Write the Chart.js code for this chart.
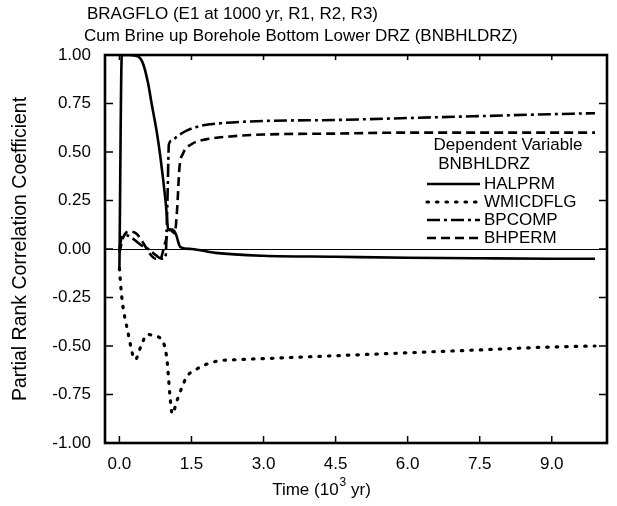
<!DOCTYPE html>
<html><head><meta charset="utf-8">
<script src="https://cdn.jsdelivr.net/npm/chart.js@4"></script>
<style>html,body{margin:0;padding:0;background:#fff}</style>
</head><body>
<canvas id="c" width="617" height="506"></canvas>
<script>
const titleLines = ["BRAGFLO (E1 at 1000 yr, R1, R2, R3)", "Cum Brine up Borehole Bottom Lower DRZ (BNBHLDRZ)"];
const yAxisTitle = "Partial Rank Correlation Coefficient";
const legendTitle = ["Dependent Variable", "BNBHLDRZ"];
const seriesNames = ["HALPRM", "WMICDFLG", "BPCOMP", "BHPERM"];
const xTicks = [0, 1.5, 3, 4.5, 6, 7.5, 9];
const yTicks = [-1, -0.75, -0.5, -0.25, 0, 0.25, 0.5, 0.75, 1];

const tHAL = [0, 0.05, 0.2, 0.4, 0.5, 0.6, 0.67, 0.78, 0.85, 0.96, 1.02, 1.1, 1.17, 1.27, 1.5, 2.0, 3.0, 4.5, 6.0, 7.5, 9.0, 9.9];
const vHAL = [-0.1, 1.0, 1.0, 0.99, 0.95, 0.85, 0.75, 0.6, 0.48, 0.25, 0.1, 0.1, 0.08, 0.01, 0.0, -0.02, -0.035, -0.04, -0.045, -0.048, -0.05, -0.05];

const tWMI = [0, 0.05, 0.17, 0.33, 0.45, 0.58, 0.75, 0.89, 0.99, 1.05, 1.1, 1.2, 1.4, 1.6, 2.0, 2.5, 3.0, 4.5, 6.0, 7.5, 9.0, 9.9];
const vWMI = [-0.1, -0.25, -0.42, -0.57, -0.5, -0.44, -0.45, -0.47, -0.57, -0.75, -0.85, -0.78, -0.66, -0.62, -0.58, -0.57, -0.565, -0.55, -0.535, -0.52, -0.505, -0.5];

const tBPC = [0, 0.05, 0.15, 0.3, 0.45, 0.6, 0.75, 0.88, 0.96, 1.0, 1.03, 1.1, 1.2, 1.4, 1.7, 2.2, 3.0, 4.5, 6.0, 7.5, 9.0, 9.9];
const vBPC = [0, 0.06, 0.07, 0.05, 0.02, 0.0, -0.03, -0.05, -0.04, 0.25, 0.54, 0.56, 0.58, 0.61, 0.635, 0.65, 0.66, 0.665, 0.675, 0.685, 0.695, 0.70];

const tBHP = [0, 0.08, 0.2, 0.35, 0.5, 0.62, 0.75, 0.85, 0.95, 1.05, 1.15, 1.2, 1.25, 1.32, 1.5, 1.8, 2.3, 3.0, 4.5, 6.0, 7.5, 9.9];
const vBHP = [-0.02, 0.06, 0.09, 0.08, 0.03, -0.02, -0.05, -0.05, 0.03, 0.1, 0.08, 0.2, 0.42, 0.49, 0.54, 0.565, 0.58, 0.59, 0.595, 0.6, 0.6, 0.6];

const FONT = "'Liberation Sans', Arial, Helvetica, sans-serif";
const FS = 17;
const dashes = [[], [1.5, 8], [13, 4, 3, 4], [9, 5]];
const widths = [2.6, 3.2, 2.6, 2.6];

function pts(t, v) { return t.map((x, i) => ({x: x, y: v[i]})); }
const seriesData = [pts(tHAL, vHAL), pts(tWMI, vWMI), pts(tBPC, vBPC), pts(tBHP, vBHP)];

const datasets = seriesData.map((d, i) => ({
  label: seriesNames[i], data: d, borderColor: '#000', backgroundColor: '#000',
  borderWidth: widths[i], borderDash: dashes[i], pointRadius: 0,
  cubicInterpolationMode: 'monotone', fill: false,
  borderCapStyle: i === 1 ? 'round' : 'butt'
}));

const decor = {
  id: 'decor',
  beforeDatasetsDraw(chart) {
    const {ctx, chartArea: a, scales: {y}} = chart;
    ctx.save();
    ctx.strokeStyle = '#000'; ctx.lineWidth = 1;
    const y0 = Math.round(y.getPixelForValue(0)) + 0.5;
    ctx.beginPath(); ctx.moveTo(a.left, y0); ctx.lineTo(a.right, y0); ctx.stroke();
    ctx.restore();
  },
  afterDraw(chart) {
    const {ctx, chartArea: a, scales: {x, y}} = chart;
    ctx.save();
    ctx.strokeStyle = '#000'; ctx.fillStyle = '#000';
    ctx.lineWidth = 2.6;
    ctx.strokeRect(a.left, a.top, a.right - a.left, a.bottom - a.top);
    ctx.lineWidth = 1.5;
    ctx.beginPath();
    xTicks.forEach(v => {
      const px = x.getPixelForValue(v);
      ctx.moveTo(px, a.bottom); ctx.lineTo(px, a.bottom - 7);
      ctx.moveTo(px, a.top); ctx.lineTo(px, a.top + 5);
    });
    yTicks.forEach(v => {
      const py = y.getPixelForValue(v);
      ctx.moveTo(a.left, py); ctx.lineTo(a.left + 8, py);
      ctx.moveTo(a.right, py); ctx.lineTo(a.right - 8, py);
    });
    ctx.stroke();
    ctx.font = FS + 'px ' + FONT;
    ctx.textBaseline = 'middle'; ctx.textAlign = 'left';
    ctx.fillText(titleLines[0], 87, 14);
    ctx.fillText(titleLines[1], 84, 36);
    ctx.save();
    ctx.translate(21, (a.top + a.bottom) / 2);
    ctx.rotate(-Math.PI / 2);
    ctx.textAlign = 'center';
    ctx.font = '19.5px ' + FONT;
    ctx.fillText(yAxisTitle, 0, 0);
    ctx.restore();
    const p1 = 'Time (10', sup = '3', p2 = ' yr)';
    ctx.font = FS + 'px ' + FONT;
    const w1 = ctx.measureText(p1).width, w2 = ctx.measureText(p2).width;
    ctx.font = Math.round(FS * 0.7) + 'px ' + FONT;
    const ws = ctx.measureText(sup).width;
    const total = w1 + ws + w2;
    const cx = (a.left + a.right) / 2 - 35;
    let sx = cx - total / 2;
    const ty = 490;
    ctx.textAlign = 'left';
    ctx.font = FS + 'px ' + FONT;
    ctx.fillText(p1, sx, ty);
    ctx.font = Math.round(FS * 0.7) + 'px ' + FONT;
    ctx.fillText(sup, sx + w1 + 1, ty - 7);
    ctx.font = FS + 'px ' + FONT;
    ctx.fillText(p2, sx + w1 + ws + 1, ty);
    ctx.textAlign = 'center';
    ctx.fillText(legendTitle[0], 508, 145);
    ctx.fillText(legendTitle[1], 484, 164);
    ctx.textAlign = 'left';
    const ly = [184, 202, 220, 238];
    seriesNames.forEach((n, i) => {
      ctx.save();
      ctx.lineWidth = widths[i];
      ctx.setLineDash(dashes[i]);
      ctx.lineCap = i === 1 ? 'round' : 'butt';
      ctx.beginPath(); ctx.moveTo(427, ly[i]); ctx.lineTo(480, ly[i]); ctx.stroke();
      ctx.restore();
      ctx.fillText(n, 484, ly[i]);
    });
    ctx.restore();
  }
};

new Chart(document.getElementById('c'), {
  type: 'line',
  data: {datasets},
  plugins: [decor],
  options: {
    responsive: false, animation: false, devicePixelRatio: 1,
    layout: {padding: {top: 55, right: 10, left: 0, bottom: 0}},
    plugins: {legend: {display: false}, title: {display: false}, tooltip: {enabled: false}},
    scales: {
      x: {
        type: 'linear', min: -0.3, max: 10.15,
        grid: {display: false, drawTicks: false}, border: {display: false},
        afterBuildTicks: s => { s.ticks = xTicks.map(v => ({value: v})); },
        afterFit: s => { s.height = 63; },
        ticks: {color: '#000', padding: 11, maxRotation: 0, font: {family: FONT, size: FS},
          callback: v => v.toFixed(1)}
      },
      y: {
        type: 'linear', min: -1, max: 1,
        grid: {display: false, drawTicks: false}, border: {display: false},
        afterBuildTicks: s => { s.ticks = yTicks.map(v => ({value: v})); },
        afterFit: s => { s.width = 105; },
        ticks: {color: '#000', padding: 14, font: {family: FONT, size: FS},
          callback: v => (v < 0 ? '-' : '') + Math.abs(v).toFixed(2)}
      }
    }
  }
});
</script>
</body></html>
